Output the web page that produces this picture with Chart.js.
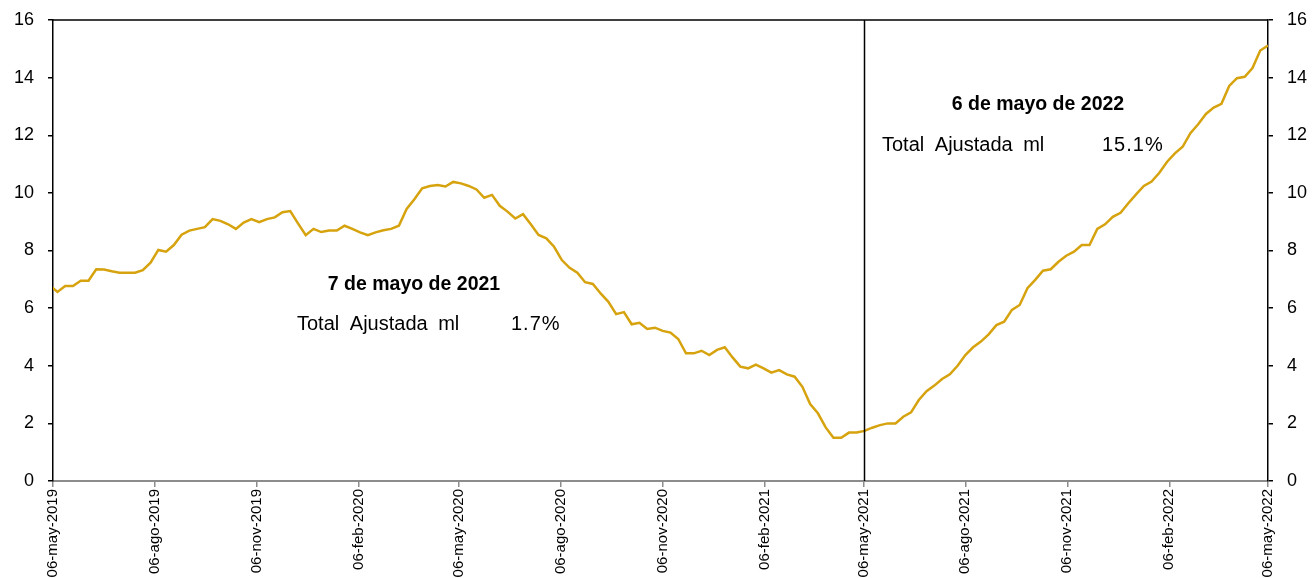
<!DOCTYPE html>
<html>
<head>
<meta charset="utf-8">
<script src="https://cdn.jsdelivr.net/npm/chart.js@4.4.1/dist/chart.umd.min.js"></script>
<style>
  html, body { margin: 0; padding: 0; background: #fff; }
  #wrap { width: 1313px; height: 578px; position: relative; }
</style>
</head>
<body>
<div id="wrap"><canvas id="tasaChart"></canvas></div>
<script>
// first weekly observation (Friday) and axis origin
const startDate = "2019-05-03"
const axisStart = "2019-05-06"
const axisEnd = "2022-05-06"

// Total Ajustada ml, weekly (%)
const totalAjustada = [
    6.79,
    6.56, 6.77, 6.77, 6.95, 6.95, 7.35, 7.34, 7.28, 7.23, 7.23,
    7.23, 7.32, 7.58, 8.02, 7.96, 8.19, 8.55, 8.69, 8.75, 8.81,
    9.09, 9.03, 8.91, 8.75, 8.97, 9.09, 8.98, 9.09, 9.15, 9.33,
    9.37, 8.94, 8.53, 8.75, 8.64, 8.69, 8.69, 8.86, 8.75, 8.63,
    8.53, 8.63, 8.70, 8.75, 8.86, 9.44, 9.78, 10.16, 10.24, 10.27,
    10.22, 10.38, 10.33, 10.24, 10.12, 9.83, 9.93, 9.55, 9.35, 9.11,
    9.26, 8.91, 8.54, 8.42, 8.13, 7.67, 7.40, 7.23, 6.90, 6.84,
    6.51, 6.22, 5.79, 5.86, 5.44, 5.49, 5.28, 5.32, 5.21, 5.15,
    4.93, 4.43, 4.43, 4.52, 4.37, 4.55, 4.64, 4.29, 3.97, 3.91,
    4.04, 3.91, 3.76, 3.85, 3.70, 3.62, 3.27, 2.67, 2.35, 1.86,
    1.50, 1.50, 1.68, 1.68, 1.74, 1.85, 1.94, 2.00, 2.00, 2.23,
    2.38, 2.81, 3.12, 3.31, 3.54, 3.70, 4.00, 4.37, 4.64, 4.84,
    5.09, 5.41, 5.53, 5.94, 6.11, 6.69, 6.98, 7.30, 7.35, 7.61,
    7.82, 7.96, 8.19, 8.19, 8.75, 8.91, 9.17, 9.31, 9.64, 9.95,
    10.24, 10.39, 10.70, 11.08, 11.37, 11.60, 12.07, 12.38, 12.74, 12.96,
    13.09, 13.71, 13.98, 14.03, 14.33, 14.94, 15.11
]

const tickDates = ["2019-05-06", "2019-08-06", "2019-11-06", "2020-02-06", "2020-05-06",
    "2020-08-06", "2020-11-06", "2021-02-06", "2021-05-06", "2021-08-06",
    "2021-11-06", "2022-02-06", "2022-05-06"]
const tickLabels = ["06-may-2019", "06-ago-2019", "06-nov-2019", "06-feb-2020", "06-may-2020",
    "06-ago-2020", "06-nov-2020", "06-feb-2021", "06-may-2021", "06-ago-2021",
    "06-nov-2021", "06-feb-2022", "06-may-2022"]

const markDate = "2021-05-07"
const notes = [
    { title: "7 de mayo de 2021", label: "Total Ajustada ml", value: "1.7%" },
    { title: "6 de mayo de 2022", label: "Total Ajustada ml", value: "15.1%" }
]

function dayOf(s) {
    const [a, b] = [s, axisStart].map(d => { const p = d.split("-"); return Date.UTC(+p[0], +p[1] - 1, +p[2]) })
    return Math.round((a - b) / 86400000)
}

const FONT = '"Liberation Sans", Arial, sans-serif'
const firstDay = dayOf(startDate)
const points = totalAjustada.map((v, i) => ({ x: firstDay + 7 * i, y: v }))
const tickDays = tickDates.map(dayOf)

const frameAndNotes = {
    id: 'frameAndNotes',
    afterDatasetsDraw(chart) {
        const { ctx, chartArea: { top, bottom, left, right }, scales: { x } } = chart
        ctx.save()
        ctx.strokeStyle = '#000'
        ctx.lineWidth = 1.5
        ctx.beginPath()
        ctx.moveTo(left, top)
        ctx.lineTo(right, top)
        const mx = Math.round(x.getPixelForValue(dayOf(markDate))) + 0.5
        ctx.moveTo(mx, top)
        ctx.lineTo(mx, bottom)
        ctx.stroke()

        ctx.fillStyle = '#000'
        ctx.textBaseline = 'middle'
        const spots = [
            { cx: 414, ty: 285, lx: 297, vx: 511, ly: 324 },
            { cx: 1038, ty: 105, lx: 882, vx: 1102, ly: 145 }
        ]
        notes.forEach((n, i) => {
            const p = spots[i]
            ctx.font = 'bold 19.5px ' + FONT
            ctx.textAlign = 'center'
            ctx.fillText(n.title, p.cx, p.ty)
            ctx.font = '20px ' + FONT
            ctx.textAlign = 'left'
            ctx.wordSpacing = '5px'
            ctx.fillText(n.label, p.lx, p.ly)
            ctx.wordSpacing = '0px'
            ctx.letterSpacing = '1px'
            ctx.fillText(n.value, p.vx, p.ly)
            ctx.letterSpacing = '0px'
        })
        ctx.restore()
    }
}

const yAxis = (pos, width) => ({
    position: pos,
    min: 0,
    max: 16,
    afterFit(scale) {
        scale.width = width
        scale.paddingTop = 0
        scale.paddingBottom = 0
    },
    ticks: { stepSize: 2, color: '#000', padding: 14, font: { family: FONT, size: 18 } },
    grid: { drawOnChartArea: false, drawTicks: true, tickLength: 5, color: '#000', lineWidth: 1.5 },
    border: { color: '#000', width: 1.5 }
})

new Chart(document.getElementById("tasaChart"), {
    type: 'line',
    data: {
        datasets: [{
            label: 'Total Ajustada ml',
            data: points,
            borderColor: '#D6A30E',
            borderWidth: 2.5,
            pointRadius: 0,
            tension: 0,
            fill: false
        }]
    },
    options: {
        responsive: true,
        maintainAspectRatio: false,
        animation: false,
        layout: { padding: { top: 20, left: 0, right: 0, bottom: 0 } },
        plugins: { legend: { display: false }, tooltip: { enabled: false } },
        scales: {
            x: {
                type: 'linear',
                min: 0,
                max: dayOf(axisEnd),
                afterBuildTicks(scale) { scale.ticks = tickDays.map(v => ({ value: v })) },
                afterFit(scale) {
                    scale.height = 97
                    scale.paddingLeft = 0
                    scale.paddingRight = 0
                },
                ticks: {
                    autoSkip: false,
                    maxRotation: 90,
                    minRotation: 90,
                    padding: 2,
                    color: '#000',
                    font: { family: FONT, size: 15 },
                    callback: (v) => tickLabels[tickDays.indexOf(v)]
                },
                grid: { drawOnChartArea: false, drawTicks: true, tickLength: 6, color: '#8c8c8c', lineWidth: 1.5 },
                border: { color: '#8c8c8c', width: 2 }
            },
            y: yAxis('left', 53),
            y2: yAxis('right', 45)
        }
    },
    plugins: [frameAndNotes]
})
</script>
</body>
</html>
